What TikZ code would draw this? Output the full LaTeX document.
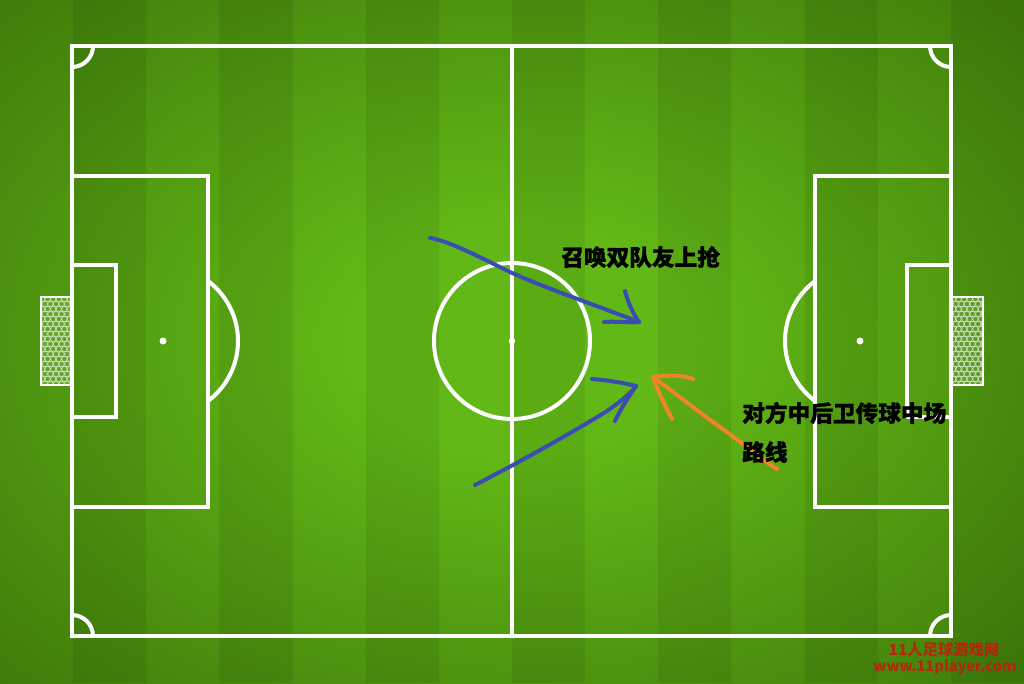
\documentclass[tikz,border=0pt]{standalone}
\usepackage{fontspec}
\newfontfamily\cjk{Noto Sans CJK SC}[BoldFeatures={FakeBold=1.2}]
\newfontfamily\cjkmark{Noto Sans CJK SC}
\definecolor{fieldA}{RGB}{98,184,22}
\definecolor{fieldB}{RGB}{44,92,4}
\definecolor{arrowblue}{RGB}{58,78,178}
\definecolor{arroworange}{RGB}{240,132,40}
\definecolor{markred}{RGB}{200,24,12}
\pgfdeclareradialshading{fieldshade}{\pgfpoint{0bp}{0bp}}{color(0bp)=(fieldA); color(8bp)=(fieldA); color(48bp)=(fieldB)}
\tikzset{
  pitchline/.style={draw=white, line width=3pt},
  netline/.style={draw=white, line width=1.5pt},
  bluestroke/.style={draw=arrowblue, line width=3pt, line cap=round, line join=round},
  orangestroke/.style={draw=arroworange, line width=3pt, line cap=round, line join=round},
  label/.style={font=\cjk\bfseries\fontsize{17}{20}\selectfont, text=black, inner sep=0pt, anchor=west},
  wmark/.style={text=markred, inner sep=0pt, opacity=0.85}
}
\begin{document}
\begin{tikzpicture}[x=0.75pt, y=-0.75pt]
\useasboundingbox (0,0) rectangle (1024,683);
% background field
\begin{scope}
\clip (0,0) rectangle (1024,683);
\fill[fieldB] (0,0) rectangle (1024,683);
\shade[shading=fieldshade] (-10,-20) rectangle (1050,700);
\foreach \i in {1,3,...,13} {
  \fill[black, opacity=0.07] ({\i*1024/14},0) rectangle ({(\i+1)*1024/14},683);
}
\end{scope}
% goals with net
\foreach \gx in {40,951} {
  \begin{scope}
    \clip (\gx,297) rectangle ++(33,88);
    \fill[white, opacity=0.12] (\gx,297) rectangle ++(33,88);
    \foreach \r in {0,...,17} {
      \foreach \c in {0,...,6} {
        \pgfmathsetmacro{\xx}{\gx+2+\c*5.6+mod(\r,2)*2.8}
        \pgfmathsetmacro{\yy}{299+\r*5.0}
        \draw[white, opacity=0.7, line width=0.45pt] (\xx,\yy) circle (2.7);
      }
    }
  \end{scope}
}
\draw[netline] (72,297) -- (41,297) -- (41,385) -- (72,385);
\draw[netline] (951,297) -- (983,297) -- (983,385) -- (951,385);
% pitch lines
\draw[pitchline] (72,46) rectangle (951,636);
\draw[pitchline] (512,46) -- (512,636);
\draw[pitchline] (512,341) circle (78);
\fill[white] (512,341) circle (3.2);
% left side
\draw[pitchline] (72,176) rectangle (208,507);
\draw[pitchline] (72,265) rectangle (116,417);
\fill[white] (163,341) circle (3.5);
\draw[pitchline] (208,281) arc[start angle=-53.13, end angle=53.13, radius=75];
% right side
\draw[pitchline] (815,176) rectangle (951,507);
\draw[pitchline] (907,265) rectangle (951,417);
\fill[white] (860,341) circle (3.5);
\draw[pitchline] (815,281) arc[start angle=233.13, end angle=126.87, radius=75];
% corner arcs
\draw[pitchline] (93,46) arc[start angle=0, end angle=90, radius=21];
\draw[pitchline] (930,46) arc[start angle=180, end angle=90, radius=21];
\draw[pitchline] (93,636) arc[start angle=0, end angle=-90, radius=21];
\draw[pitchline] (930,636) arc[start angle=180, end angle=270, radius=21];
% arrow end points
\coordinate (a1s) at (430,238);
\coordinate (a1e) at (639,322);
\coordinate (a1h1) at (625,291);
\coordinate (a1h2) at (604,322);
\coordinate (a2s) at (475,485);
\coordinate (a2e) at (636,386);
\coordinate (a2h1) at (592,379);
\coordinate (a2h2) at (615,421);
\coordinate (o1s) at (777,469);
\coordinate (o1e) at (653,377);
\coordinate (o1h1) at (693,379);
\coordinate (o1h2) at (672,419);
% blue arrow 1
\draw[bluestroke] (a1s) .. controls (445,240) and (470,252) .. (510,272)
  .. controls (545,288) and (590,303) .. (a1e);
\draw[bluestroke] (a1h1) .. controls (628,302) and (632,312) .. (a1e);
\draw[bluestroke] (a1h2) .. controls (615,321) and (628,323) .. (a1e);
% blue arrow 2
\draw[bluestroke] (a2s) .. controls (520,462) and (580,428) .. (607,411)
  .. controls (620,402) and (630,394) .. (a2e);
\draw[bluestroke] (a2h1) .. controls (605,380) and (620,382) .. (a2e);
\draw[bluestroke] (a2h2) .. controls (622,406) and (630,395) .. (a2e);
% orange arrow
\draw[orangestroke] (o1s) .. controls (765,462) and (745,445) .. (720,427)
  .. controls (700,413) and (675,393) .. (o1e);
\draw[orangestroke] (o1h1) .. controls (684,375) and (668,375) .. (o1e);
\draw[orangestroke] (o1h2) .. controls (665,405) and (658,392) .. (o1e);
% labels
\node[label] (t1) at (561,257) {召唤双队友上抢};
\node[label] (t2) at (742,413) {对方中后卫传球中场};
\node[label] (t3) at (742,452) {路线};
% watermark
\node[wmark, font=\cjkmark\bfseries\fontsize{11.5}{13}\selectfont] (w1) at (944,650) {11人足球游戏网};
\node[wmark, font=\cjkmark\bfseries\fontsize{11}{13}\selectfont] (w2) at (945,667) {www.11player.com};
\end{tikzpicture}
\end{document}
